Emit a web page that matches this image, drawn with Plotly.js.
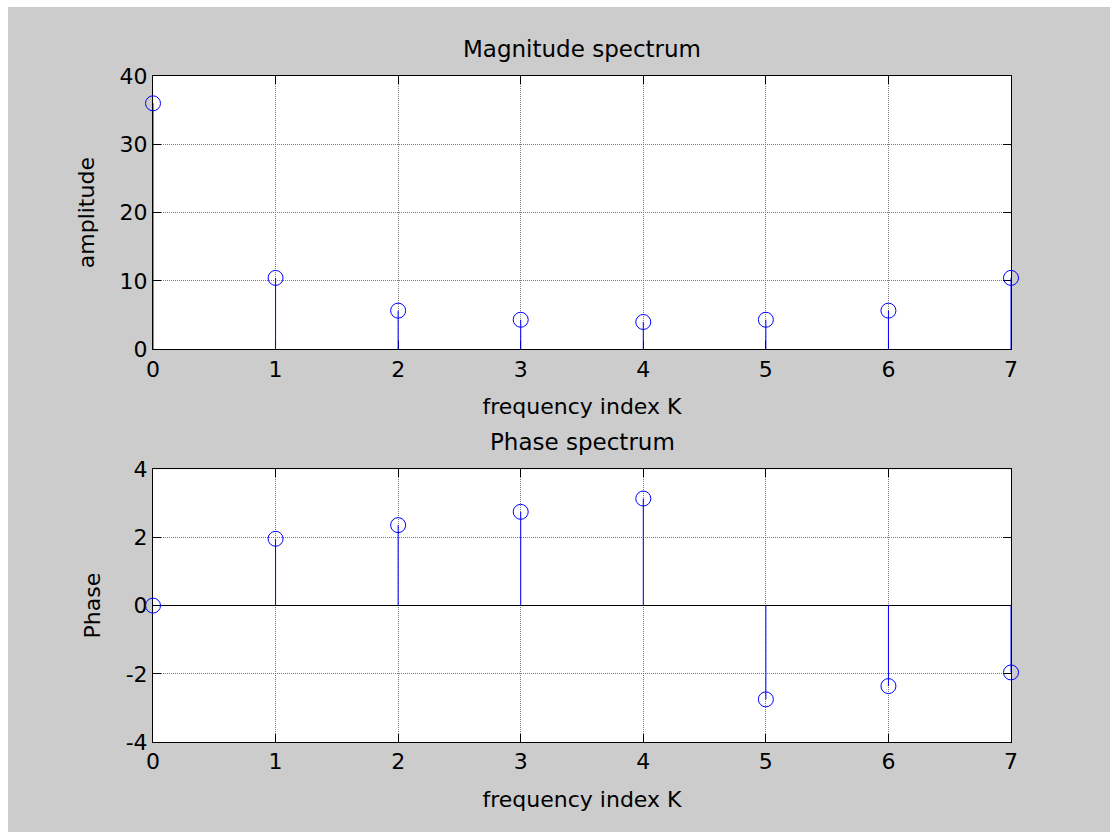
<!DOCTYPE html>
<html>
<head>
<meta charset="utf-8">
<script src="https://cdn.plot.ly/plotly-3.0.1.min.js"></script>
<style>
  html, body { margin: 0; padding: 0; background: #ffffff; }
  #fig { position: absolute; left: 8px; top: 7px; width: 1102px; height: 825px; }
</style>
</head>
<body>
<div id="fig"></div>
<script>
// 8-point DFT of the sequence: magnitude and phase per frequency index
const freqIndex = [0, 1, 2, 3, 4, 5, 6, 7];
const magnitude = [36, 10.45, 5.66, 4.33, 4.0, 4.33, 5.66, 10.45];
const phase = [0, 1.96, 2.36, 2.75, 3.14, -2.75, -2.36, -1.96];

const xTickVals = [0, 1, 2, 3, 4, 5, 6, 7];
const magTickVals = [0, 10, 20, 30, 40];
const phaseTickVals = [-4, -2, 0, 2, 4];
const phaseTickText = ['-4', '-2', '0', '2', '4'];

const STEM_BLUE = '#0000ff';
const FONT = { family: 'DejaVu Sans', size: 22, color: '#000000' };

// stem lines: vertical segments from the baseline to each value
function stemSegments(xs, ys) {
  const sx = [], sy = [];
  xs.forEach((x, i) => { sx.push(x, x, null); sy.push(0, ys[i], null); });
  return { sx, sy };
}

function stemTraces(xs, ys, xa, ya) {
  const s = stemSegments(xs, ys);
  return [
    { x: s.sx, y: s.sy, xaxis: xa, yaxis: ya, type: 'scatter', mode: 'lines',
      line: { color: STEM_BLUE, width: 1 }, hoverinfo: 'skip', cliponaxis: false },
    { x: xs, y: ys, xaxis: xa, yaxis: ya, type: 'scatter', mode: 'markers',
      marker: { symbol: 'circle-open', size: 15, color: STEM_BLUE, line: { width: 1, color: STEM_BLUE } },
      cliponaxis: false }
  ];
}

const data = [
  ...stemTraces(freqIndex, magnitude, 'x', 'y'),
  ...stemTraces(freqIndex, phase, 'x2', 'y2')
];

const axisStyle = {
  showline: true, linecolor: '#000000', linewidth: 1, mirror: 'allticks',
  ticks: 'inside', ticklen: 8, tickwidth: 1, tickcolor: '#000000',
  showgrid: true, gridcolor: '#7a7a7a', gridwidth: 1, griddash: '1px,1px',
  layer: 'below traces', tickfont: FONT, automargin: false, fixedrange: true
};

const layout = {
  width: 1102, height: 825,
  paper_bgcolor: '#cccccc', plot_bgcolor: '#ffffff',
  showlegend: false,
  font: FONT,
  margin: { l: 144.5, r: 99, t: 68.5, b: 90 },
  xaxis: Object.assign({}, axisStyle, {
    domain: [0, 1], anchor: 'y', range: [0, 7], tickvals: xTickVals, zeroline: false,
    title: { text: 'frequency index K', font: FONT, standoff: 17 }
  }),
  yaxis: Object.assign({}, axisStyle, {
    domain: [0.5896, 1], anchor: 'x', range: [0, 40], tickvals: magTickVals, zeroline: false,
    title: { text: 'amplitude', font: FONT, standoff: 18 }
  }),
  xaxis2: Object.assign({}, axisStyle, {
    domain: [0, 1], anchor: 'y2', range: [0, 7], tickvals: xTickVals, zeroline: false,
    title: { text: 'frequency index K', font: FONT, standoff: 18 }
  }),
  yaxis2: Object.assign({}, axisStyle, {
    domain: [0, 0.4096], anchor: 'x2', range: [-4, 4],
    tickvals: phaseTickVals, ticktext: phaseTickText,
    zeroline: true, zerolinecolor: '#000000', zerolinewidth: 1,
    title: { text: 'Phase', font: FONT, standoff: 18 }
  }),
  annotations: [
    { text: 'Magnitude spectrum', xref: 'x domain', yref: 'y domain', x: 0.5, y: 1,
      xanchor: 'center', yanchor: 'middle', yshift: 27.5, showarrow: false,
      font: { family: 'DejaVu Sans', size: 23, color: '#000000' } },
    { text: 'Phase spectrum', xref: 'x2 domain', yref: 'y2 domain', x: 0.5, y: 1,
      xanchor: 'center', yanchor: 'middle', yshift: 27, showarrow: false,
      font: { family: 'DejaVu Sans', size: 23, color: '#000000' } }
  ]
};

Plotly.newPlot('fig', data, layout, { displayModeBar: false, staticPlot: true });
</script>
</body>
</html>
